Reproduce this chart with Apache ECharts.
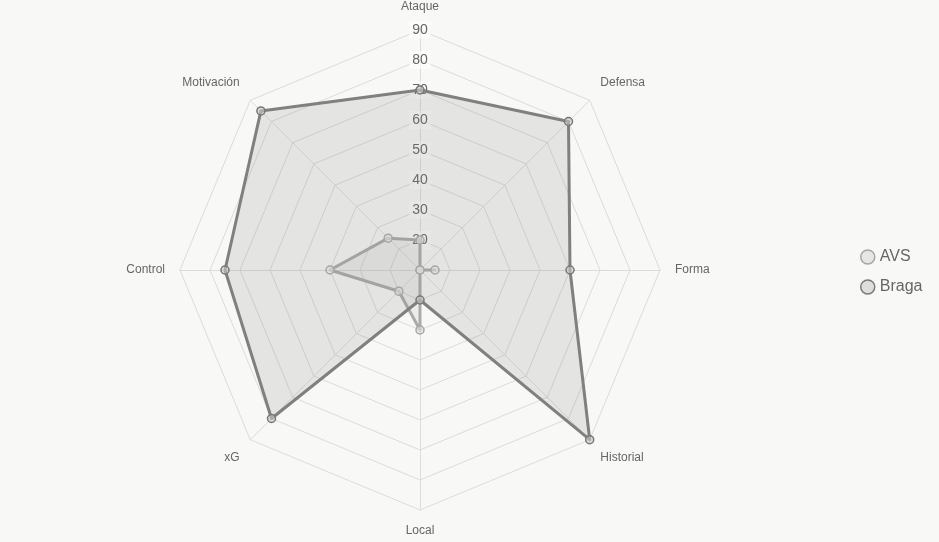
<!DOCTYPE html>
<html>
<head>
<meta charset="utf-8">
<script src="https://cdn.jsdelivr.net/npm/echarts@6/dist/echarts.min.js"></script>
<style>
html,body{margin:0;padding:0;background:#f8f8f6;}
#chart{width:939px;height:542px;}
</style>
</head>
<body>
<div id="chart"></div>
<script>
const indicators = ['Ataque','Defensa','Forma','Historial','Local','xG','Control','Motivación'];
const avsValues = [20, 10, 15, 10, 30, 20, 40, 25];
const bragaValues = [70, 80, 60, 90, 20, 80, 75, 85];
const scaleMin = 10, scaleMax = 90, scaleStep = 10;

// ECharts radar runs counter-clockwise; reorder so axes go clockwise from the top
const order = [0].concat(indicators.map((_, i) => i).slice(1).reverse());
const reorder = arr => order.map(i => arr[i]);

const FONT = '"Liberation Sans", Arial, Helvetica, sans-serif';
const chart = echarts.init(document.getElementById('chart'));
const center = [420, 270], radius = 240;

// label style by position around the circle (original index)
function nameStyle(name) {
  const i = indicators.indexOf(name);
  if (i === 1 || i === 7) return 'up';
  if (i === 3 || i === 5) return 'down';
  if (i === 0) return 'top';
  return 'n';
}

chart.setOption({
  backgroundColor: '#f8f8f6',
  animation: false,
  legend: {
    orient: 'vertical',
    left: 855, top: 244,
    itemWidth: 14, itemHeight: 14, itemGap: 14,
    icon: 'circle',
    textStyle: {fontFamily: FONT, fontSize: 16, color: '#666'},
    data: [
      {name: 'AVS', itemStyle: {color: '#e6e6e6', borderColor: '#a6a6a6', borderWidth: 1.5}},
      {name: 'Braga', itemStyle: {color: '#dedede', borderColor: '#7a7a7a', borderWidth: 1.5}}
    ]
  },
  radar: {
    center: center, radius: radius, startAngle: 90,
    shape: 'polygon', splitNumber: (scaleMax - scaleMin) / scaleStep,
    nameGap: 15,
    axisName: {
      fontFamily: FONT, fontSize: 12, color: '#666',
      formatter: name => '{' + nameStyle(name) + '|' + name + '}',
      rich: {
        up: {fontFamily: FONT, fontSize: 12, color: '#666', padding: [0, 0, 14, 0]},
        down: {fontFamily: FONT, fontSize: 12, color: '#666', padding: [14, 0, 0, 0]},
        top: {fontFamily: FONT, fontSize: 12, color: '#666', padding: [0, 0, 2, 0]},
        n: {fontFamily: FONT, fontSize: 12, color: '#666'}
      }
    },
    indicator: reorder(indicators).map(n => ({name: n, min: scaleMin, max: scaleMax})),
    axisLine: {lineStyle: {color: '#dcdcdc', width: 1}},
    splitLine: {lineStyle: {color: '#dcdcdc', width: 1}},
    splitArea: {show: false},
    axisLabel: {show: false},
    axisTick: {show: false}
  },
  polar: {center: center, radius: [0, radius]},
  angleAxis: {type: 'value', startAngle: 90, min: 0, max: 360, show: false},
  radiusAxis: {
    type: 'value', min: scaleMin, max: scaleMax, interval: scaleStep,
    z: 1,
    axisLine: {show: false}, axisTick: {show: false}, splitLine: {show: false},
    axisLabel: {
      showMinLabel: false, margin: 0, align: 'center', verticalAlign: 'middle',
      rotate: 0,
      fontFamily: FONT, fontSize: 14, color: '#666',
      backgroundColor: 'rgba(255,255,255,0.6)', padding: [2, 3]
    }
  },
  series: [{
    type: 'radar', z: 3,
    symbol: 'circle', symbolSize: 8,
    data: [
      {
        name: 'AVS', value: reorder(avsValues),
        lineStyle: {color: '#ababab', width: 3},
        areaStyle: {color: 'rgba(170,170,170,0.22)'},
        itemStyle: {color: 'rgba(220,220,220,0.6)', borderColor: '#a6a6a6', borderWidth: 1.5}
      },
      {
        name: 'Braga', value: reorder(bragaValues),
        lineStyle: {color: '#808080', width: 3},
        areaStyle: {color: 'rgba(128,128,128,0.24)'},
        itemStyle: {color: 'rgba(200,200,200,0.6)', borderColor: '#777', borderWidth: 1.5}
      }
    ]
  }]
});
</script>
</body>
</html>
